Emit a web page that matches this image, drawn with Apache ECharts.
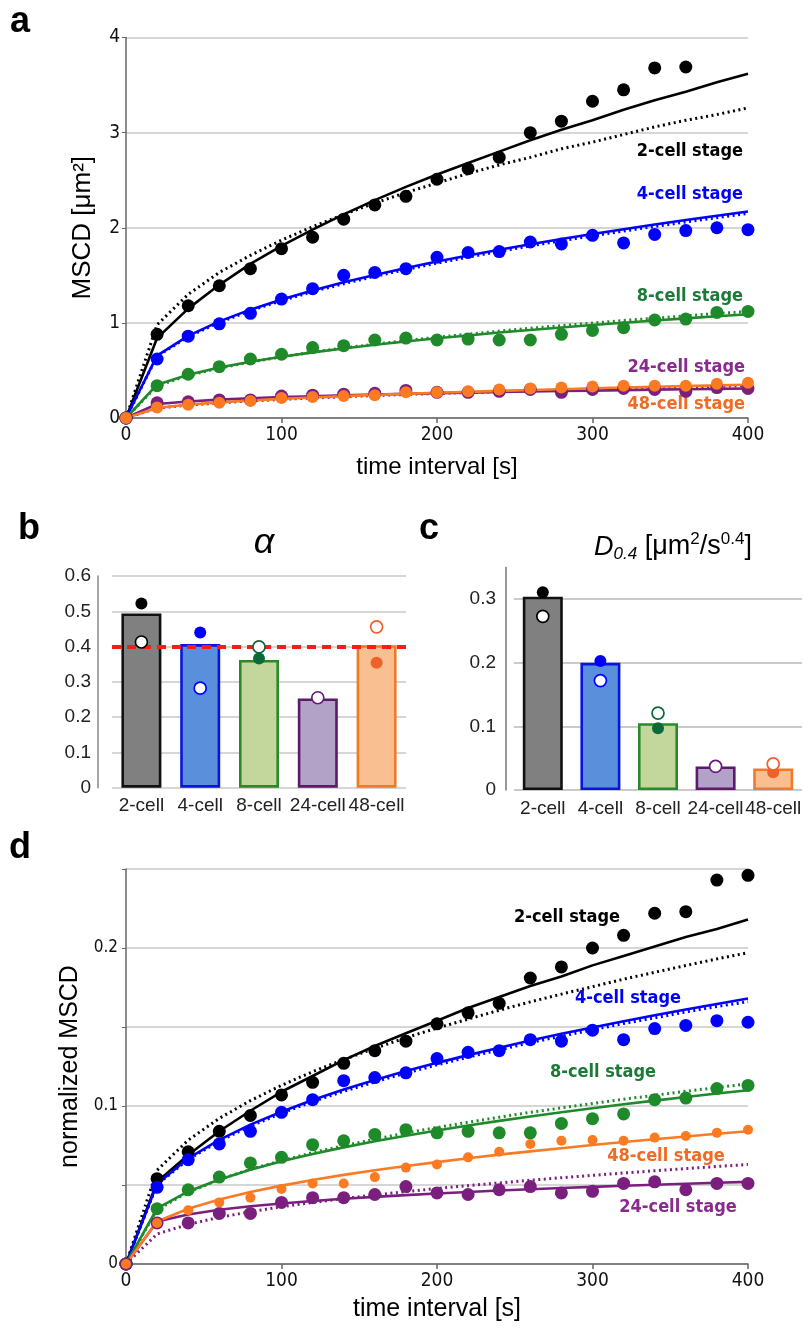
<!DOCTYPE html>
<html>
<head>
<meta charset="utf-8">
<script src="https://cdn.jsdelivr.net/npm/echarts@6/dist/echarts.min.js"></script>
<style>
  html, body { margin: 0; padding: 0; background: #fff; }
  #chart { width: 808px; height: 1328px; }
</style>
</head>
<body>
<div id="chart"></div>
<script>
// time lags (s)
const time = [0, 20, 40, 60, 80, 100, 120, 140, 160, 180, 200, 220, 240, 260, 280, 300, 320, 340, 360, 380, 400];

// panel a: MSCD [um^2]
const a2cell = [0, 0.88, 1.18, 1.39, 1.57, 1.78, 1.90, 2.09, 2.24, 2.33, 2.51, 2.62, 2.74, 3.00, 3.12, 3.33, 3.45, 3.68, 3.69, null, null];
const a4cell = [0, 0.62, 0.86, 0.99, 1.10, 1.25, 1.36, 1.50, 1.53, 1.57, 1.69, 1.74, 1.75, 1.85, 1.83, 1.92, 1.84, 1.93, 1.97, 2.00, 1.98];
const a8cell = [0, 0.34, 0.46, 0.54, 0.62, 0.67, 0.74, 0.76, 0.82, 0.84, 0.82, 0.83, 0.82, 0.82, 0.88, 0.92, 0.95, 1.03, 1.04, 1.11, 1.12];
const a24cell = [0, 0.16, 0.17, 0.19, 0.19, 0.23, 0.24, 0.25, 0.26, 0.29, 0.27, 0.27, 0.28, 0.30, 0.27, 0.30, 0.31, 0.30, 0.28, 0.32, 0.31];
const a48cell = [0, 0.11, 0.14, 0.16, 0.18, 0.21, 0.22, 0.23, 0.24, 0.27, 0.27, 0.28, 0.30, 0.31, 0.32, 0.33, 0.34, 0.34, 0.34, 0.36, 0.37];

// panel a: fitted curves (solid = free alpha, dotted = alpha 0.4)
const a2cellFit = [0, 0.84, 1.15, 1.40, 1.62, 1.81, 1.98, 2.14, 2.29, 2.43, 2.56, 2.68, 2.80, 2.92, 3.03, 3.13, 3.24, 3.34, 3.43, 3.53, 3.62];
const a2cellFit04 = [0, 0.98, 1.30, 1.53, 1.71, 1.87, 2.01, 2.14, 2.26, 2.37, 2.47, 2.57, 2.66, 2.74, 2.83, 2.90, 2.98, 3.06, 3.13, 3.19, 3.26];
const a4cellFit = [0, 0.655, 0.864, 1.016, 1.139, 1.246, 1.341, 1.426, 1.504, 1.577, 1.645, 1.708, 1.769, 1.827, 1.882, 1.934, 1.985, 2.034, 2.081, 2.127, 2.17];
const a4cellFit04 = [0, 0.65, 0.855, 1.005, 1.128, 1.234, 1.328, 1.412, 1.489, 1.561, 1.628, 1.691, 1.751, 1.809, 1.863, 1.915, 1.965, 2.014, 2.06, 2.106, 2.15];
const a8cellFit = [0, 0.35, 0.454, 0.530, 0.591, 0.644, 0.690, 0.731, 0.770, 0.805, 0.838, 0.868, 0.898, 0.925, 0.952, 0.977, 1.001, 1.025, 1.047, 1.069, 1.09];
const a8cellFit04 = [0, 0.338, 0.446, 0.524, 0.588, 0.643, 0.692, 0.736, 0.776, 0.814, 0.849, 0.881, 0.913, 0.943, 0.971, 0.998, 1.025, 1.049, 1.074, 1.098, 1.12];
const a24cellFit = [0, 0.147, 0.174, 0.193, 0.207, 0.219, 0.229, 0.238, 0.247, 0.254, 0.261, 0.267, 0.273, 0.278, 0.284, 0.288, 0.293, 0.298, 0.302, 0.306, 0.31];
const a24cellFit04 = [0, 0.103, 0.135, 0.159, 0.179, 0.195, 0.210, 0.223, 0.236, 0.247, 0.258, 0.268, 0.277, 0.286, 0.295, 0.303, 0.311, 0.319, 0.326, 0.333, 0.34];
const a48cellFit = [0, 0.106, 0.139, 0.164, 0.184, 0.201, 0.216, 0.230, 0.243, 0.254, 0.265, 0.275, 0.285, 0.295, 0.303, 0.312, 0.320, 0.328, 0.336, 0.343, 0.35];

// panel d: normalized MSCD
const d2cell = [0, 0.054, 0.071, 0.084, 0.094, 0.107, 0.115, 0.127, 0.135, 0.141, 0.152, 0.159, 0.165, 0.181, 0.188, 0.200, 0.208, 0.222, 0.223, 0.243, 0.246];
const d4cell = [0, 0.0485, 0.066, 0.076, 0.084, 0.096, 0.104, 0.116, 0.118, 0.121, 0.130, 0.134, 0.135, 0.142, 0.141, 0.148, 0.142, 0.149, 0.151, 0.154, 0.153];
const d8cell = [0, 0.035, 0.047, 0.055, 0.064, 0.0675, 0.0755, 0.078, 0.082, 0.085, 0.083, 0.084, 0.083, 0.083, 0.089, 0.092, 0.095, 0.104, 0.105, 0.111, 0.113];
const d24cell = [0, 0.026, 0.026, 0.032, 0.032, 0.039, 0.042, 0.042, 0.044, 0.049, 0.045, 0.044, 0.047, 0.049, 0.045, 0.046, 0.051, 0.052, 0.047, 0.051, 0.051];
const d48cell = [0, 0.026, 0.034, 0.039, 0.042, 0.0475, 0.051, 0.051, 0.055, 0.061, 0.063, 0.0675, 0.071, 0.076, 0.078, 0.0785, 0.078, 0.080, 0.081, 0.083, 0.085];

const d2cellFit = [0, 0.052, 0.069, 0.084, 0.097, 0.109, 0.119, 0.129, 0.138, 0.146, 0.154, 0.162, 0.169, 0.176, 0.182, 0.189, 0.195, 0.201, 0.207, 0.212, 0.218];
const d2cellFit04 = [0, 0.0594, 0.0784, 0.0922, 0.1034, 0.1131, 0.1217, 0.1294, 0.1365, 0.1432, 0.1493, 0.1550, 0.1606, 0.1659, 0.1708, 0.1755, 0.1803, 0.1846, 0.1889, 0.1931, 0.197];
const d4cellFit = [0, 0.0507, 0.0669, 0.0786, 0.0882, 0.0964, 0.1038, 0.1104, 0.1164, 0.1221, 0.1273, 0.1322, 0.1369, 0.1415, 0.1457, 0.1497, 0.1537, 0.1574, 0.1611, 0.1646, 0.168];
const d4cellFit04 = [0, 0.0502, 0.0662, 0.0778, 0.0873, 0.0954, 0.1028, 0.1093, 0.1152, 0.1209, 0.1260, 0.1309, 0.1355, 0.1401, 0.1442, 0.1482, 0.1522, 0.1558, 0.1595, 0.1630, 0.166];
const d8cellFit = [0, 0.0352, 0.0459, 0.0535, 0.0597, 0.0650, 0.0696, 0.0738, 0.0777, 0.0812, 0.0845, 0.0877, 0.0906, 0.0934, 0.0960, 0.0986, 0.1011, 0.1034, 0.1057, 0.1079, 0.110];
const d8cellFit04 = [0, 0.0344, 0.0454, 0.0534, 0.0599, 0.0654, 0.0705, 0.0749, 0.0790, 0.0829, 0.0864, 0.0897, 0.0929, 0.0960, 0.0988, 0.1016, 0.1043, 0.1068, 0.1093, 0.1117, 0.114];
const d24cellFit = [0, 0.0269, 0.0313, 0.0343, 0.0365, 0.0383, 0.0399, 0.0413, 0.0425, 0.0436, 0.0446, 0.0456, 0.0465, 0.0473, 0.0481, 0.0488, 0.0495, 0.0502, 0.0508, 0.0514, 0.052];
const d24cellFit04 = [0, 0.0190, 0.0251, 0.0295, 0.0331, 0.0362, 0.0389, 0.0414, 0.0437, 0.0458, 0.0478, 0.0496, 0.0513, 0.0530, 0.0546, 0.0561, 0.0576, 0.0590, 0.0604, 0.0617, 0.063];
const d48cellFit = [0, 0.0269, 0.0350, 0.0408, 0.0456, 0.0496, 0.0532, 0.0564, 0.0593, 0.0620, 0.0645, 0.0669, 0.0692, 0.0713, 0.0733, 0.0753, 0.0772, 0.0790, 0.0807, 0.0824, 0.084];

// panels b and c
const stages = ['2-cell', '4-cell', '8-cell', '24-cell', '48-cell'];
const alphaMean = [0.494, 0.407, 0.362, 0.253, 0.404];
const alphaFilled = [0.522, 0.440, 0.366, 0.254, 0.354];
const alphaOpen = [0.413, 0.282, 0.399, 0.255, 0.456];
const dMean = [0.304, 0.200, 0.105, 0.037, 0.034];
const dFilled = [0.311, 0.203, 0.097, 0.037, 0.028];
const dOpen = [0.273, 0.172, 0.121, 0.037, 0.041];

// colours
const lineCol = ['#000000', '#0000ff', '#1f8a2a', '#7a1f7e', '#fb7a22'];
const textCol = ['#000000', '#0000ff', '#1a7a36', '#8a2a8e', '#f26a24'];
const barFill = ['#808080', '#5a8fdb', '#c3d69b', '#b3a2c7', '#f9bf90'];
const barEdge = ['#111111', '#0a14e0', '#2a8a2a', '#5c1a6a', '#f07a2a'];
const dotCol = ['#000000', '#0000ff', '#0b6a3a', '#6a1b7a', '#f0602a'];

const narrow = "'Liberation Sans Narrow','DejaVu Sans Condensed','Arial Narrow',sans-serif";
const arial = "'Liberation Sans',Arial,sans-serif";

const pairs = arr => time.map((t, i) => [t, arr[i]]);

const series = [];
function addStage(grid, fit, fit04, pts, k, symSize) {
  series.push({
    type: 'line', xAxisIndex: grid, yAxisIndex: grid, data: pairs(fit),
    symbol: 'none', z: 2, silent: true,
    lineStyle: { color: lineCol[k], width: 2.6 }
  });
  if (fit04) {
    series.push({
      type: 'line', xAxisIndex: grid, yAxisIndex: grid, data: pairs(fit04),
      symbol: 'none', z: 2, silent: true,
      lineStyle: { color: lineCol[k], width: 3, type: [2, 3.5] }
    });
  }
  series.push({
    type: 'scatter', xAxisIndex: grid, yAxisIndex: grid, data: pairs(pts),
    symbolSize: symSize, z: 3, itemStyle: { color: lineCol[k], opacity: 1 }
  });
}

addStage(0, a2cellFit, a2cellFit04, a2cell, 0, 13);
addStage(0, a4cellFit, a4cellFit04, a4cell, 1, 13);
addStage(0, a8cellFit, a8cellFit04, a8cell, 2, 13);
addStage(0, a24cellFit, a24cellFit04, a24cell, 3, 13);
addStage(0, a48cellFit, null, a48cell, 4, 12);

addStage(3, d2cellFit, d2cellFit04, d2cell, 0, 13);
addStage(3, d4cellFit, d4cellFit04, d4cell, 1, 13);
addStage(3, d8cellFit, d8cellFit04, d8cell, 2, 13);
addStage(3, d24cellFit, d24cellFit04, d24cell, 3, 13);
addStage(3, d48cellFit, null, d48cell, 4, 10);

function barSeries(grid, vals, mark) {
  const s = {
    type: 'bar', xAxisIndex: grid, yAxisIndex: grid, barWidth: 40, z: 2, silent: true,
    data: vals.map((v, i) => ({
      value: v,
      itemStyle: { color: barFill[i], borderColor: barEdge[i], borderWidth: 2.6, opacity: 1 }
    }))
  };
  if (mark) {
    s.markLine = {
      silent: true, symbol: 'none', label: { show: false }, z: 4,
      lineStyle: { color: '#ff1a1a', width: 4, type: [9, 6], opacity: 1 },
      data: [{ yAxis: mark }]
    };
  }
  return s;
}
function dotSeries(grid, vals, open) {
  return {
    type: 'scatter', xAxisIndex: grid, yAxisIndex: grid, symbolSize: 12, z: open ? 6 : 5, silent: true,
    data: vals.map((v, i) => ({
      value: v,
      itemStyle: open
        ? { color: '#ffffff', borderColor: dotCol[i], borderWidth: 1.7, opacity: 1 }
        : { color: dotCol[i], opacity: 1 }
    }))
  };
}
series.push(barSeries(1, alphaMean, 0.4), dotSeries(1, alphaFilled, false), dotSeries(1, alphaOpen, true));
series.push(barSeries(2, dMean, null), dotSeries(2, dFilled, false), dotSeries(2, dOpen, true));

const gridLine = { show: true, lineStyle: { color: '#c8c8c8', width: 1.5 } };
const axisDark = { show: true, lineStyle: { color: '#666', width: 1.5 } };

const option = {
  animation: false,
  backgroundColor: '#ffffff',
  grid: [
    { left: 126, top: 37.5, width: 622, height: 380.5 },
    { left: 112, top: 576, width: 294, height: 211.7 },
    { left: 514, top: 567.4, width: 288, height: 222.6 },
    { left: 126, top: 869, width: 622, height: 395 }
  ],
  xAxis: [
    {
      gridIndex: 0, type: 'value', min: 0, max: 400, interval: 100,
      splitLine: { show: false }, axisLine: axisDark,
      axisTick: { show: true, length: 5, lineStyle: { color: '#666', width: 1.5 } },
      axisLabel: { fontFamily: narrow, fontSize: 19, color: '#111', margin: 8 },
      name: 'time interval [s]', nameLocation: 'middle', nameGap: 37,
      nameTextStyle: { fontFamily: arial, fontSize: 24, color: '#000' }
    },
    {
      gridIndex: 1, type: 'category', data: stages,
      axisLine: { show: false }, axisTick: { show: false },
      axisLabel: { fontFamily: arial, fontSize: 19, color: '#222', margin: 9, interval: 0 }
    },
    {
      gridIndex: 2, type: 'category', data: stages,
      axisLine: { show: false }, axisTick: { show: false },
      axisLabel: { fontFamily: arial, fontSize: 19, color: '#222', margin: 9, interval: 0 }
    },
    {
      gridIndex: 3, type: 'value', min: 0, max: 400, interval: 100,
      splitLine: { show: false }, axisLine: axisDark,
      axisTick: { show: true, length: 5, lineStyle: { color: '#666', width: 1.5 } },
      axisLabel: { fontFamily: narrow, fontSize: 19, color: '#111', margin: 8 },
      name: 'time interval [s]', nameLocation: 'middle', nameGap: 33,
      nameTextStyle: { fontFamily: arial, fontSize: 25, color: '#000' }
    }
  ],
  yAxis: [
    {
      gridIndex: 0, type: 'value', min: 0, max: 4, interval: 1,
      splitLine: gridLine, axisLine: axisDark,
      axisTick: { show: true, length: 4, lineStyle: { color: '#666' } },
      axisLabel: { fontFamily: narrow, fontSize: 19, color: '#111', margin: 6 },
      name: 'MSCD [μm²]', nameLocation: 'middle', nameGap: 30,
      nameTextStyle: { fontFamily: arial, fontSize: 26, color: '#000' }
    },
    {
      gridIndex: 1, type: 'value', min: 0, max: 0.6, interval: 0.1, offset: 14,
      splitLine: gridLine, axisLine: { show: true, lineStyle: { color: '#888', width: 1.5 } },
      axisTick: { show: false },
      axisLabel: { fontFamily: arial, fontSize: 19, color: '#222', margin: 7 }
    },
    {
      gridIndex: 2, type: 'value', min: 0, max: 0.35, interval: 0.1, offset: 8,
      splitLine: { show: true, lineStyle: { color: ['#b8b8b8', '#b8b8b8', '#b8b8b8', '#b8b8b8', 'rgba(0,0,0,0)'], width: 1.5 } },
      axisLine: { show: true, lineStyle: { color: '#777', width: 1.5 } },
      axisTick: { show: false },
      axisLabel: { fontFamily: arial, fontSize: 19, color: '#222', margin: 10, showMaxLabel: false }
    },
    {
      gridIndex: 3, type: 'value', min: 0, max: 0.25, interval: 0.05,
      splitLine: gridLine, axisLine: axisDark,
      axisTick: { show: true, length: 4, lineStyle: { color: '#666' } },
      axisLabel: {
        fontFamily: narrow, fontSize: 17, color: '#111', margin: 8,
        formatter: v => {
          const r = Math.round(v * 100);
          return r % 10 === 0 ? String(r / 100) : '';
        }
      },
      name: 'normalized MSCD', nameLocation: 'middle', nameGap: 30,
      nameTextStyle: { fontFamily: arial, fontSize: 25, color: '#000' }
    }
  ],
  graphic: [
    { type: 'text', x: 10, y: 22, style: { text: 'a', font: 'bold 36px ' + arial, fill: '#000', verticalAlign: 'middle' } },
    { type: 'text', x: 18, y: 529, style: { text: 'b', font: 'bold 36px ' + arial, fill: '#000', verticalAlign: 'middle' } },
    { type: 'text', x: 419, y: 529, style: { text: 'c', font: 'bold 36px ' + arial, fill: '#000', verticalAlign: 'middle' } },
    { type: 'text', x: 9, y: 848, style: { text: 'd', font: 'bold 36px ' + arial, fill: '#000', verticalAlign: 'middle' } },
    { type: 'text', x: 264, y: 543, style: { text: 'α', font: 'italic 36px ' + arial, fill: '#000', align: 'center', verticalAlign: 'middle' } },
    {
      type: 'text', x: 673, y: 547,
      style: {
        text: '{i|D}{sub|0.4}{n| [μm}{sup|2}{n|/s}{sup|0.4}{n|]}',
        align: 'center', verticalAlign: 'middle', fill: '#000',
        rich: {
          i: { fontFamily: arial, fontStyle: 'italic', fontSize: 27, lineHeight: 32, verticalAlign: 'middle' },
          n: { fontFamily: arial, fontSize: 27, lineHeight: 32, verticalAlign: 'middle' },
          sub: { fontFamily: arial, fontStyle: 'italic', fontSize: 17, lineHeight: 17, verticalAlign: 'bottom' },
          sup: { fontFamily: arial, fontSize: 17, lineHeight: 17, verticalAlign: 'top' }
        }
      }
    },
    // stage labels, panel a
    { type: 'text', x: 743, y: 151, style: { text: '2-cell stage', font: 'bold 18px ' + narrow, fill: textCol[0], align: 'right', verticalAlign: 'middle' } },
    { type: 'text', x: 743, y: 194, style: { text: '4-cell stage', font: 'bold 18px ' + narrow, fill: textCol[1], align: 'right', verticalAlign: 'middle' } },
    { type: 'text', x: 743, y: 296, style: { text: '8-cell stage', font: 'bold 18px ' + narrow, fill: textCol[2], align: 'right', verticalAlign: 'middle' } },
    { type: 'text', x: 745, y: 367, style: { text: '24-cell stage', font: 'bold 18px ' + narrow, fill: textCol[3], align: 'right', verticalAlign: 'middle' } },
    { type: 'text', x: 745, y: 404, style: { text: '48-cell stage', font: 'bold 18px ' + narrow, fill: textCol[4], align: 'right', verticalAlign: 'middle' } },
    // stage labels, panel d
    { type: 'text', x: 567, y: 917, style: { text: '2-cell stage', font: 'bold 18px ' + narrow, fill: textCol[0], align: 'center', verticalAlign: 'middle' } },
    { type: 'text', x: 628, y: 998, style: { text: '4-cell stage', font: 'bold 18px ' + narrow, fill: textCol[1], align: 'center', verticalAlign: 'middle' } },
    { type: 'text', x: 603, y: 1072, style: { text: '8-cell stage', font: 'bold 18px ' + narrow, fill: textCol[2], align: 'center', verticalAlign: 'middle' } },
    { type: 'text', x: 666, y: 1156, style: { text: '48-cell stage', font: 'bold 18px ' + narrow, fill: textCol[4], align: 'center', verticalAlign: 'middle' } },
    { type: 'text', x: 678, y: 1207, style: { text: '24-cell stage', font: 'bold 18px ' + narrow, fill: textCol[3], align: 'center', verticalAlign: 'middle' } }
  ],
  series: series
};

const chart = echarts.init(document.getElementById('chart'), null, { renderer: 'canvas' });
chart.setOption(option);
</script>
</body>
</html>
